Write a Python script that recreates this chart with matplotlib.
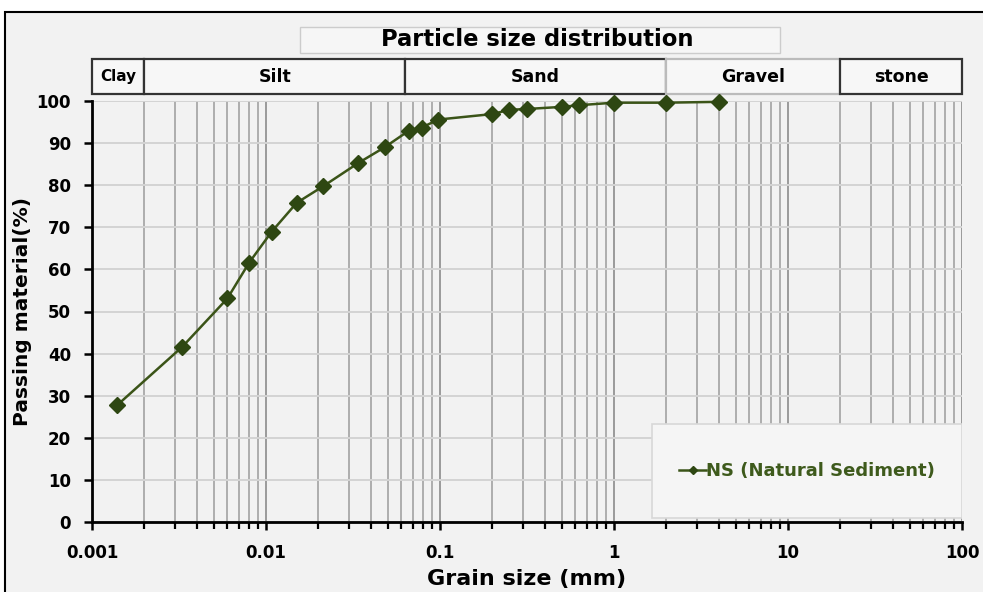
import matplotlib
matplotlib.use("Agg")
import matplotlib.pyplot as plt
import matplotlib.transforms as mtransforms
from matplotlib.patches import Rectangle
from matplotlib.ticker import LogLocator, FixedLocator, NullFormatter

plt.rcParams['font.family'] = ['DejaVu Sans']

grain_size = [0.0014, 0.0033, 0.006, 0.008, 0.0108, 0.015, 0.0214, 0.034, 0.048,
              0.066, 0.0785, 0.098, 0.2, 0.25, 0.315, 0.5, 0.63, 1.0, 2.0, 4.0]
passing = [27.8, 41.6, 53.1, 61.6, 69.0, 75.8, 79.8, 85.3, 89.0,
           92.9, 93.7, 95.6, 96.9, 97.9, 98.1, 98.6, 99.0, 99.6, 99.6, 99.8]
series_name = "NS (Natural Sediment)"

class_names = ["Clay", "Silt", "Sand", "Gravel", "stone"]
class_bounds = [0.001, 0.002, 0.063, 2.0, 20.0, 100.0]

x_ticks = [0.001, 0.01, 0.1, 1, 10, 100]
x_ticklabels = ["0.001", "0.01", "0.1", "1", "10", "100"]
y_ticks = list(range(0, 101, 10))

bg = '#f2f2f2'
green = '#3b5418'

fig = plt.figure(figsize=(9.83, 5.92), dpi=100, facecolor='white')
# outer border (left and top visible)
fig.patches.append(Rectangle((5/983, -0.1), 1.2, (592-12)/592 + 0.1,
                             transform=fig.transFigure, facecolor=bg,
                             edgecolor='black', linewidth=1.5, zorder=-5))

ax = fig.add_axes([92/983, 1-522/592, (962-92)/983, (522-101)/592])
ax.set_zorder(2)
ax.set_facecolor(bg)
ax.set_xscale('log')
ax.set_xlim(0.001, 100)
ax.set_ylim(0, 100)

ax.xaxis.set_major_locator(FixedLocator(x_ticks))
ax.set_xticklabels(x_ticklabels)
ax.xaxis.set_minor_locator(LogLocator(base=10, subs=range(2, 10)))
ax.xaxis.set_minor_formatter(NullFormatter())
ax.set_yticks(y_ticks)

ax.grid(True, which='major', axis='x', color='#9a9a9a', lw=1.4)
ax.grid(True, which='minor', axis='x', color='#a8a8a8', lw=1.3)
ax.grid(True, which='major', axis='y', color='#d4d4d4', lw=1.4)
ax.set_axisbelow(True)

for s in ['top', 'right']:
    ax.spines[s].set_visible(False)
ax.spines['left'].set_linewidth(2.0)
ax.spines['bottom'].set_linewidth(2.0)
ax.tick_params(axis='y', which='major', length=6, width=1.8, direction='out',
               labelsize=12, pad=9)
ax.tick_params(axis='x', which='major', length=6, width=1.8, direction='out',
               labelsize=12, pad=10)
ax.tick_params(axis='x', which='minor', length=5, width=1.6, direction='out')
for lab in ax.get_xticklabels() + ax.get_yticklabels():
    lab.set_fontweight('bold')

ax.plot(grain_size, passing, color=green, lw=1.8, marker='D', markersize=8,
        markerfacecolor='#2e4712', markeredgecolor='#2e4712', label=series_name,
        zorder=5, clip_on=False)

ax.set_xlabel("Grain size (mm)", fontsize=16, fontweight='bold', labelpad=5)
ax.set_ylabel("Passing material(%)", fontsize=14.5, fontweight='bold', labelpad=3)

# legend frame and legend
lx0, lx1 = (652-92)/870, (962-92)/870
ly0, ly1 = (522-518)/421, (522-424)/421
ax.add_patch(Rectangle((lx0, ly0), lx1 - lx0, ly1 - ly0, transform=ax.transAxes,
                       facecolor='#f5f5f5', edgecolor='#d8d8d8', lw=1.2, zorder=6))
leg = ax.legend(loc='center', bbox_to_anchor=((lx0+lx1)/2, (ly0+ly1)/2),
                frameon=False, fontsize=13, handlelength=1.5, handletextpad=0.0,
                markerscale=0.55)
leg.set_zorder(7)
for t in leg.get_texts():
    t.set_color('#3e5a1c')
    t.set_fontweight('bold')

# classification boxes above the axes
trans = mtransforms.blended_transform_factory(ax.transData, ax.transAxes)
y0 = (522-94)/421
h = (94-59)/421
edge_colors = ['#333333', '#333333', '#333333', '#bbbbbb', '#333333']
for i, name in enumerate(class_names):
    x0, x1 = class_bounds[i], class_bounds[i+1]
    ax.add_patch(Rectangle((x0, y0), x1 - x0, h, transform=trans, facecolor='#f7f7f7',
                           edgecolor=edge_colors[i], lw=1.6, clip_on=False, zorder=3))
    xm = (x0 * x1) ** 0.5
    ax.text(xm, y0 + h/2, name, transform=trans, ha='center', va='center',
            fontsize=12.5 if name != "Clay" else 11, fontweight='bold', zorder=4)

# title box
fig.patches.append(Rectangle((300/983, 1-53/592), 480/983, 26/592,
                             transform=fig.transFigure, facecolor='#f6f6f6',
                             edgecolor='#cccccc', lw=1.0, zorder=1))
fig.text(537/983, 1-40/592, "Particle size distribution", ha='center', va='center',
         fontsize=16.3, fontweight='bold', zorder=3)

fig.savefig("out.png", dpi=100, facecolor=fig.get_facecolor())
